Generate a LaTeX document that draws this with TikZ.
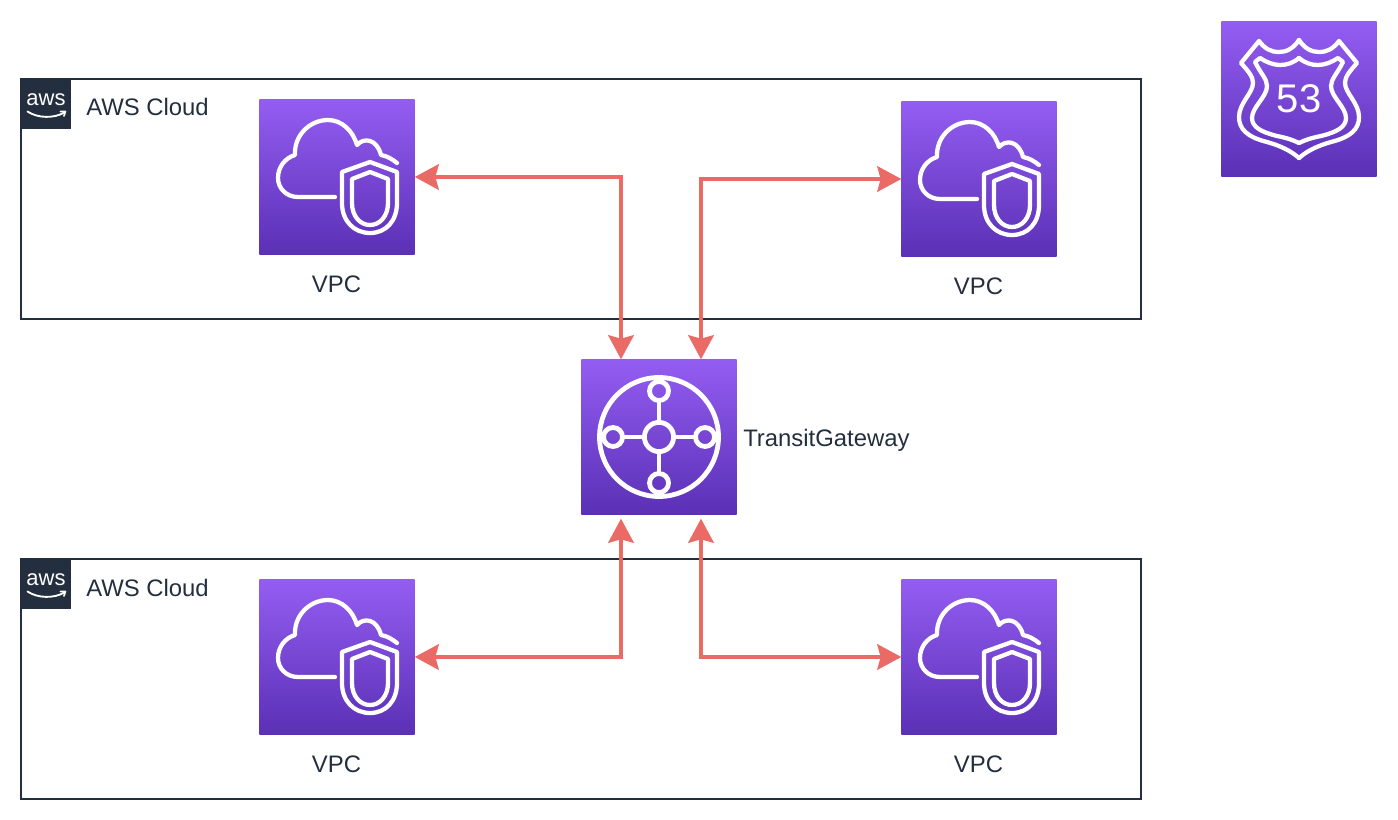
\documentclass[tikz,border=0pt]{standalone}
\usepackage{fontspec}
\setmainfont{Liberation Sans}
\usetikzlibrary{arrows.meta}
\definecolor{awsInk}{HTML}{232F3E}
\definecolor{linkRed}{HTML}{EA6B66}
\definecolor{iconTop}{HTML}{945DF2}
\definecolor{iconBot}{HTML}{5A30B5}
\tikzset{
  cloudbox/.style={draw=awsInk, line width=1.5pt},
  awsicon/.style={minimum size=116.5pt, inner sep=0pt, outer sep=0pt, top color=iconTop, bottom color=iconBot},
  awstag/.style={minimum size=37.5pt, inner sep=0pt, outer sep=0pt, fill=awsInk},
  iconln/.style={line width=3.2pt, draw=white, line cap=round, line join=round},
  hubln/.style={line width=3.6pt, draw=white},
  linkln/.style={{Stealth[length=18pt,width=19pt,inset=2.5pt]}-{Stealth[length=18pt,width=19pt,inset=2.5pt]}, line width=3.2pt, linkRed},
  lbl/.style={text=awsInk, font=\fontsize{17.9}{20}\selectfont, inner sep=0pt},
}
% white line drawings, px units around the node centre
\newcommand{\vpcglyph}[1]{%
  \begin{scope}[shift={(#1)}]
    \draw[iconln] (-2,20) -- (-39,20)
      .. controls (-51,20) and (-59,11) .. (-59,1)
      .. controls (-59,-10) and (-52,-19) .. (-42,-22)
      .. controls (-43,-42) and (-27,-57) .. (-9,-57)
      .. controls (5,-57) and (16,-46) .. (20,-32)
      .. controls (27,-40) and (40,-38) .. (44,-22)
      .. controls (50,-21) and (55,-18) .. (60,-14);
    \draw[iconln] (33,-15) -- (5,-5) -- (5,26)
      .. controls (5,44) and (17,56) .. (33,56)
      .. controls (49,56) and (60,44) .. (60,26) -- (60,-5) -- cycle;
    \draw[iconln] (33,-5) -- (15,2) -- (15,26)
      .. controls (15,39) and (23,48) .. (33,48)
      .. controls (43,48) and (51,39) .. (51,26) -- (51,2) -- cycle;
  \end{scope}
}
\newcommand{\tgwglyph}[1]{%
  \begin{scope}[shift={(#1)}]
    \draw[hubln] (0,0) circle[radius=59.5];
    \draw[hubln] (0,0) circle[radius=14.6];
    \foreach \a in {0,90,180,270} {
      \draw[hubln, rotate=\a] (46,0) circle[radius=9.5];
      \draw[hubln, line width=3pt, rotate=\a] (16,0) -- (36,0);
    }
  \end{scope}
}
\newcommand{\shieldglyph}[1]{%
  \begin{scope}[shift={(#1)}]
    \foreach \s in {1,-1} {
      \draw[iconln, xscale=\s] (0,-59)
        .. controls (-6,-50) and (-13,-47) .. (-20,-47)
        .. controls (-28,-47) and (-34,-50) .. (-40,-58)
        -- (-58,-36)
        .. controls (-50,-27) and (-46,-22) .. (-46,-16)
        .. controls (-46,-6) and (-60,4) .. (-60,18)
        .. controls (-60,30) and (-52,38) .. (-32,43)
        .. controls (-18,47) and (-8,52) .. (0,59);
      \draw[iconln, xscale=\s] (0,-41)
        .. controls (-6,-36) and (-12,-34) .. (-19,-34)
        .. controls (-26,-34) and (-33,-37) .. (-39,-41)
        -- (-44,-37)
        .. controls (-38,-25) and (-32,-20) .. (-32,-13)
        .. controls (-32,-2) and (-47,8) .. (-47,19)
        .. controls (-47,28) and (-38,33) .. (-22,37)
        .. controls (-12,39) and (-6,41) .. (0,44);
    }
  \end{scope}
}
\newcommand{\awstaglogo}[2]{%
  \node[awstag] (#1) at (#2) {};
  \node[text=white, inner sep=0pt, font=\fontsize{16.5}{16}\selectfont] (#1txt) at ([yshift=3.2pt]#1.center) {aws};
  \draw[white, line width=1.4pt, line cap=round] ([shift={(-18.5,7.5)}]#1.center)
    .. controls ([shift={(-8,14.5)}]#1.center) and ([shift={(8,14.5)}]#1.center) .. ([shift={(18.5,8.5)}]#1.center);
  \draw[white, line width=1.2pt, line join=round, line cap=round] ([shift={(14.5,7.5)}]#1.center)
    -- ([shift={(19.5,7.5)}]#1.center) -- ([shift={(18,12)}]#1.center);
}

\begin{document}
\begin{tikzpicture}[x=0.75pt,y=-0.75pt]
    \useasboundingbox (0,0) rectangle (1398,820);
    % the two clouds
    \draw[cloudbox] (21,79) rectangle (1141,319);
    \draw[cloudbox] (21,559) rectangle (1141,799);
    \awstaglogo{tagUp}{46,104}
    \awstaglogo{tagDown}{46,584}
    \node[lbl, anchor=base west] (cloudUp) at (86,116) {AWS Cloud};
    \node[lbl, anchor=base west] (cloudDown) at (86,596) {AWS Cloud};
    % icons
    \node[awsicon] (vpcA) at (337,177) {};
    \node[awsicon] (vpcB) at (979,179) {};
    \node[awsicon] (vpcC) at (337,657) {};
    \node[awsicon] (vpcD) at (979,657) {};
    \node[awsicon] (tgw) at (659,437) {};
    \node[awsicon] (dns) at (1299,99) {};
    \foreach \n in {vpcA,vpcB,vpcC,vpcD} {
      \vpcglyph{\n.center}
    }
    \tgwglyph{tgw.center}
    \shieldglyph{dns.center}
    \node[text=white, inner sep=0pt, font=\fontsize{30}{30}\selectfont] (dnsnum) at (dns.center) {53};
    % labels
    \node[lbl, anchor=base] (lblA) at (336.5,292) {VPC};
    \node[lbl, anchor=base] (lblB) at (978.5,294) {VPC};
    \node[lbl, anchor=base] (lblC) at (336.5,772) {VPC};
    \node[lbl, anchor=base] (lblD) at (978.5,772) {VPC};
    \node[lbl, anchor=base west] (lblT) at (743,446) {TransitGateway};
    % links
    \coordinate (tgwNW) at ([xshift=-28.5pt]tgw.north);
    \coordinate (tgwNE) at ([xshift=31.5pt]tgw.north);
    \coordinate (tgwSW) at ([xshift=-28.5pt,yshift=-3pt]tgw.south);
    \coordinate (tgwSE) at ([xshift=31.5pt,yshift=-3pt]tgw.south);
    \draw[linkln] (vpcA.east) -| (tgwNW);
    \draw[linkln] (vpcB.west) -| (tgwNE);
    \draw[linkln] (vpcC.east) -| (tgwSW);
    \draw[linkln] (vpcD.west) -| (tgwSE);
\end{tikzpicture}
\end{document}
